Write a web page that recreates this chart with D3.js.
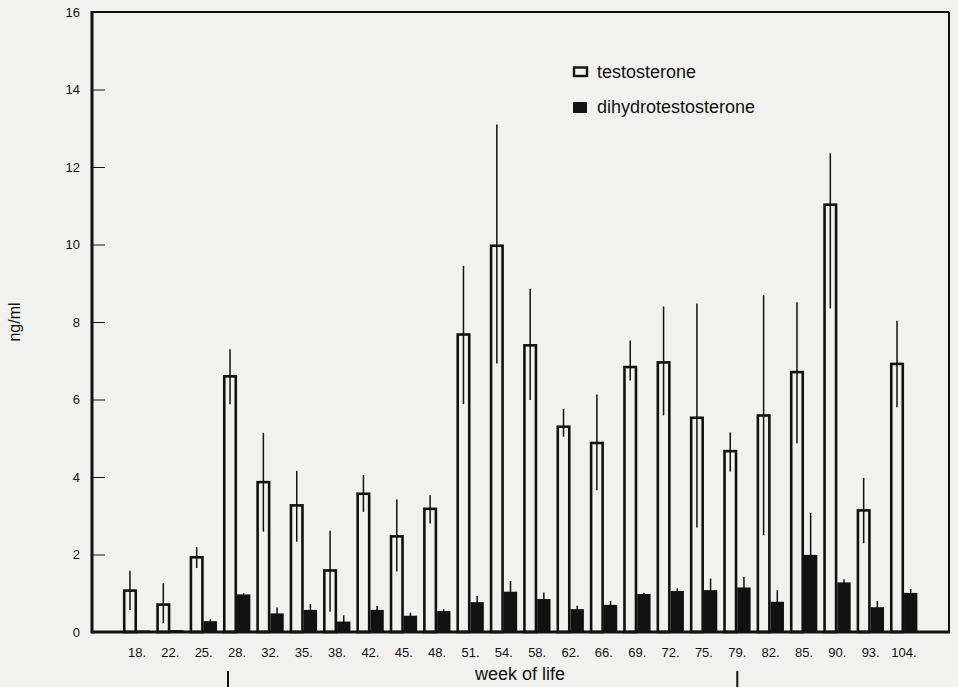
<!DOCTYPE html>
<html>
<head>
<meta charset="utf-8">
<script src="https://cdn.jsdelivr.net/npm/d3@7"></script>
<style>
  html, body { margin: 0; padding: 0; background: #f1f1ef; }
  svg { display: block; font-family: "Liberation Sans", Arial, sans-serif; }
</style>
</head>
<body>
<svg id="chart" width="958" height="687"></svg>
<script>
// ---- data ----
const weeks = ["18.","22.","25.","28.","32.","35.","38.","42.","45.","48.","51.","54.","58.","62.","66.","69.","72.","75.","79.","82.","85.","90.","93.","104."];
const testosterone = [1.10,0.74,1.96,6.63,3.90,3.30,1.62,3.60,2.50,3.21,7.71,10.00,7.43,5.33,4.91,6.87,6.99,5.56,4.70,5.62,6.74,11.06,3.17,6.95];
const testosteroneErrUp = [0.48,0.52,0.23,0.67,1.24,0.86,0.99,0.45,0.92,0.32,1.74,3.10,1.43,0.43,1.22,0.65,1.41,2.92,0.45,3.07,1.77,1.29,0.81,1.08];
const testosteroneErrDown = [0.53,0.51,0.31,0.75,1.31,0.97,1.10,0.50,0.94,0.41,1.83,3.07,1.44,0.29,1.25,0.38,1.40,2.86,0.56,3.12,1.87,2.71,0.88,1.15];
const dht = [0.04,0.05,0.28,0.97,0.48,0.57,0.27,0.57,0.42,0.54,0.77,1.04,0.85,0.59,0.70,0.98,1.06,1.08,1.15,0.78,1.99,1.28,0.64,1.01];
const dhtErr = [0.00,0.00,0.05,0.03,0.15,0.15,0.16,0.10,0.08,0.05,0.16,0.28,0.17,0.09,0.10,0.03,0.07,0.30,0.27,0.30,1.08,0.08,0.16,0.10];
const yTicks = [0,2,4,6,8,10,12,14,16];
const seriesNames = ["testosterone","dihydrotestosterone"];
const markerWeeks = ["28.","79."];
const xTitle = "week of life";
const yTitle = "ng/ml";

// ---- layout ----
const svg = d3.select("#chart");
const plot = {left: 92, right: 949, top: 12, bottom: 632};
const ink = "#111";

const x = d3.scaleBand().domain(weeks).range([120.3, 920.7]).paddingInner(0).paddingOuter(0);
const y = d3.scaleLinear().domain([0,16]).range([plot.bottom, plot.top]);
const bw = x.bandwidth();

// frame
svg.append("line").attr("x1", plot.left).attr("x2", plot.right).attr("y1", plot.top).attr("y2", plot.top)
  .attr("stroke", ink).attr("stroke-width", 2);
svg.append("line").attr("x1", plot.right).attr("x2", plot.right).attr("y1", plot.top).attr("y2", plot.bottom)
  .attr("stroke", ink).attr("stroke-width", 2);

// y axis (ticks inward)
const yAxis = d3.axisRight(y).tickValues(yTicks).tickSize(13).tickFormat("");
const gy = svg.append("g").attr("transform", `translate(${plot.left},0)`).call(yAxis);
gy.select(".domain").remove();
gy.selectAll(".tick line").attr("stroke", ink).attr("stroke-width", 1);
gy.selectAll(".tick").filter(d => d === 0 || d === 16).select("line").remove();
svg.append("g").selectAll("text").data(yTicks).join("text")
  .attr("x", 80).attr("y", d => y(d)).attr("dy", "0.36em")
  .attr("text-anchor", "end").attr("font-size", 13).attr("fill", ink)
  .text(d => d);

// bars
const g = svg.append("g");
const tX = w => x(w) + bw * 0.08;
const tW = bw * 0.42;
const dX = w => x(w) + bw * 0.5;
const dW = bw * 0.40;

// DHT bars (filled)
g.selectAll("rect.dht").data(weeks).join("rect").attr("class","dht")
  .attr("x", w => dX(w)).attr("width", dW)
  .attr("y", (w,i) => y(dht[i])).attr("height", (w,i) => y(0) - y(dht[i]))
  .attr("fill", ink);
g.selectAll("line.dhterr").data(weeks).join("line").attr("class","dhterr")
  .attr("x1", w => dX(w) + dW/2).attr("x2", w => dX(w) + dW/2)
  .attr("y1", (w,i) => y(dht[i] + dhtErr[i])).attr("y2", (w,i) => y(Math.max(0, dht[i] - dhtErr[i])))
  .attr("stroke", ink).attr("stroke-width", 1.5);

// testosterone bars (open)
g.selectAll("rect.t").data(weeks).join("rect").attr("class","t")
  .attr("x", w => tX(w) + 1.25).attr("width", tW - 2.5)
  .attr("y", (w,i) => y(testosterone[i]) + 1.25).attr("height", (w,i) => y(0) - y(testosterone[i]) - 1.25)
  .attr("fill", "none").attr("stroke", ink).attr("stroke-width", 2.6);
g.selectAll("line.terr").data(weeks).join("line").attr("class","terr")
  .attr("x1", w => tX(w) + tW/2).attr("x2", w => tX(w) + tW/2)
  .attr("y1", (w,i) => y(testosterone[i] + testosteroneErrUp[i]))
  .attr("y2", (w,i) => y(testosterone[i] - testosteroneErrDown[i]))
  .attr("stroke", ink).attr("stroke-width", 1.5);

// left and bottom axis lines (drawn over bars)
svg.append("line").attr("x1", plot.left).attr("x2", plot.left).attr("y1", plot.top - 1).attr("y2", plot.bottom + 1.5)
  .attr("stroke", ink).attr("stroke-width", 3);
svg.append("line").attr("x1", plot.left).attr("x2", plot.right + 1).attr("y1", plot.bottom).attr("y2", plot.bottom)
  .attr("stroke", ink).attr("stroke-width", 3);

// x labels
svg.append("g").selectAll("text").data(weeks).join("text")
  .attr("x", w => x(w) + bw/2).attr("y", 657)
  .attr("text-anchor", "middle").attr("font-size", 13).attr("fill", ink)
  .text(w => w);

// axis titles
svg.append("text").attr("x", 520).attr("y", 680).attr("text-anchor", "middle")
  .attr("font-size", 18).attr("fill", ink).text(xTitle);
svg.append("text").attr("transform", "translate(20,322) rotate(-90)").attr("text-anchor", "middle")
  .attr("font-size", 16).attr("fill", ink).text(yTitle);

// small markers under the axis
svg.append("g").selectAll("line").data(markerWeeks).join("line")
  .attr("x1", (w,i) => x(w) + bw/2 - (i === 0 ? 9 : 0))
  .attr("x2", (w,i) => x(w) + bw/2 - (i === 0 ? 9 : 0))
  .attr("y1", 671).attr("y2", 687)
  .attr("stroke", ink).attr("stroke-width", 2);

// legend
const lg = svg.append("g").attr("transform", "translate(573,66)");
lg.append("rect").attr("x", 1).attr("y", 1.5).attr("width", 13).attr("height", 8.5)
  .attr("fill", "none").attr("stroke", ink).attr("stroke-width", 2.4);
lg.append("rect").attr("x", 0).attr("y", 36).attr("width", 14).attr("height", 11).attr("fill", ink);
lg.selectAll("text").data(seriesNames).join("text")
  .attr("x", 24).attr("y", (d,i) => 6 + i * 35).attr("dy", "0.36em")
  .attr("font-size", 18).attr("fill", ink).text(d => d);
</script>
</body>
</html>
